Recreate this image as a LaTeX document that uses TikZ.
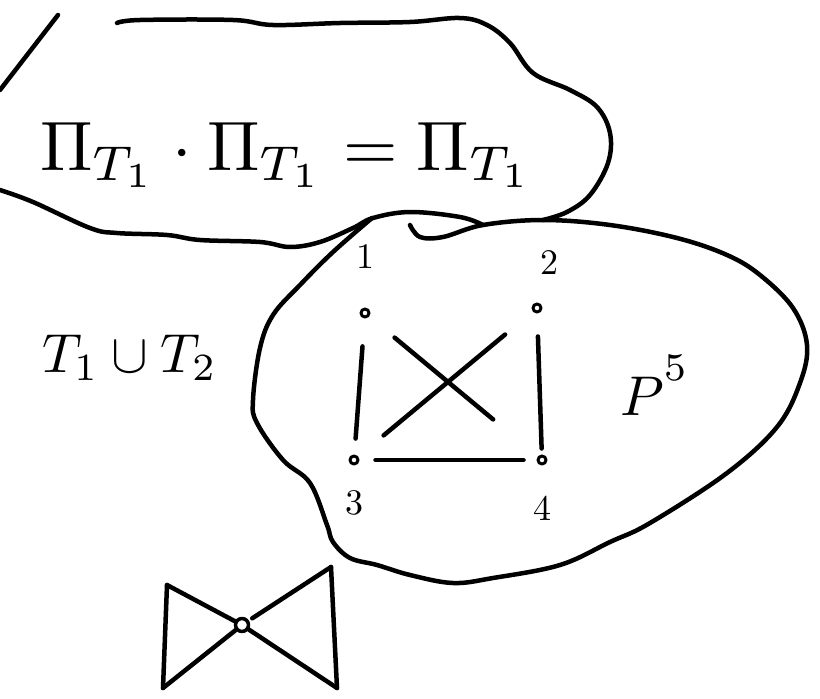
\documentclass[tikz,border=0pt]{standalone}
\usepackage{amsmath,amssymb}
\usepackage{graphicx}
\usetikzlibrary{positioning}

\begin{document}
\begin{tikzpicture}[x=1pt, y=-1pt, line width=4.5pt, line cap=round, line join=round]

		\tikzset{
			vertex/.style={circle, draw, line width=3pt, inner sep=0pt, minimum size=8pt},
			lbl/.style={inner sep=0pt},
			formula/.style={anchor=base west, inner sep=0pt},
			blob/.style={line width=4.5pt}
		}
		\newcommand{\hand}[2]{\scalebox{#1}{#2}} % handwriting sizes from 10pt

		\useasboundingbox (0,0) rectangle (820,699);

		% --- upper blob with the projection identity
		\draw[blob] (58,15) -- (0,90);
		\draw[blob] plot[smooth, tension=0.6] coordinates {
			(117,23) (140,20) (233,20) (273,25) (340,23) (410,22) (460,18) (487,25)
			(510,43) (533,73) (570,90) (597,107) (610,133) (608,163) (590,195)
			(567,212) (543,220)};
		\draw[blob] plot[smooth, tension=0.6] coordinates {
			(0,190) (33,202) (90,228) (117,233) (167,235) (200,240) (260,242)
			(290,247) (320,242) (353,228) (373,218) (410,212) (460,217) (483,225)};
		\node[formula] (proj) at (38,170)
			{\hand{7}{$\Pi_{T_1}\cdot\Pi_{T_1}=\Pi_{T_1}$}};

		% --- lower blob around the graph
		\draw[blob] plot[smooth, tension=0.6] coordinates {
			(410,225) (420,237) (443,237) (483,225) (543,220) (610,225) (677,238)
			(727,255) (760,275) (793,308) (807,345) (800,383) (777,427) (727,473)
			(650,523) (610,542) (560,565) (493,578) (453,583) (410,575) (377,565)
			(350,558) (333,542) (327,525) (310,483) (283,460) (257,423) (253,400)
			(260,348) (273,315) (300,285) (333,252) (372,218)};

		\node[formula] (union) at (40,372) {\hand{5.5}{$T_1\cup T_2$}};
		\node[formula] (pfive) at (618,415)
			{\hand{5.6}{$P^{\raisebox{2.5pt}{$\scriptstyle 5$}}$}};

		% vertices
		\node[vertex] (v1) at (365,313) {};
		\node[vertex] (v2) at (537,308) {};
		\node[vertex] (v3) at (354,460) {};
		\node[vertex] (v4) at (542,460) {};

		\node[lbl, above=37pt of v1] (l1) {\hand{3.6}{1}};
		\node[lbl, above=26pt of v2, xshift=12pt] (l2) {\hand{3.6}{2}};
		\node[lbl, below=23pt of v3] (l3) {\hand{3.6}{3}};
		\node[lbl, below=28pt of v4] (l4) {\hand{3.6}{4}};

		% edges, drawn short of the vertices
		\foreach \a/\b/\s/\e in {v1/v3/28pt/16pt, v2/v4/23pt/6pt, v1/v4/33pt/58pt,
			v2/v3/36pt/33pt, v3/v4/16pt/13pt} {
			\draw[shorten <=\s, shorten >=\e] (\a) -- (\b);
		}

		% --- bow tie
		\node[circle, draw, line width=3.5pt, inner sep=0pt, minimum size=13pt] (bc) at (242,625) {};
		\coordinate (btl) at (167,585);
		\coordinate (bbl) at (163,688);
		\coordinate (btr) at (331,567);
		\coordinate (bbr) at (337,688);
		\draw (btl) -- (bbl);
		\draw (btr) -- (bbr);
		\draw (btl) -- (bc);
		\draw (bbl) -- (bc);
		\draw[shorten >=4pt] (btr) -- (bc);
		\draw (bbr) -- (bc);

\end{tikzpicture}
\end{document}
